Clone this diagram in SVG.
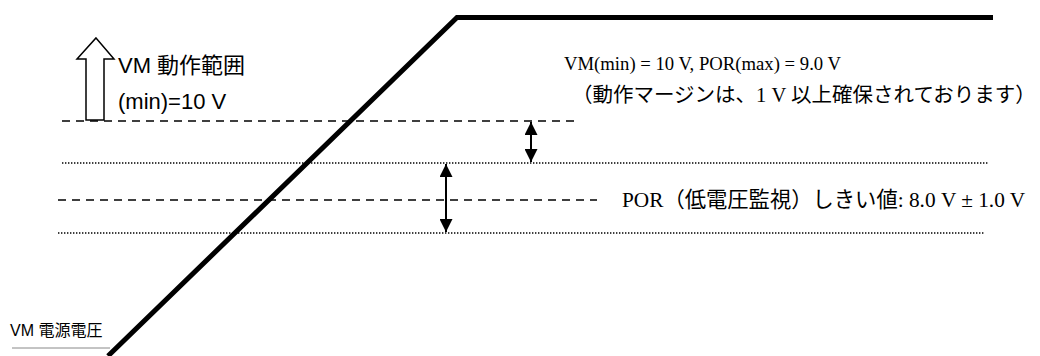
<svg xmlns="http://www.w3.org/2000/svg" width="1040" height="356" viewBox="0 0 1040 356">
  <style>
    .sans { font-family: "Liberation Sans", "Noto Sans CJK JP", sans-serif; fill: #000; }
    .serif { font-family: "Liberation Serif", "Noto Sans CJK JP", serif; fill: #000; }
    .dash { stroke: #000; stroke-width: 1.6; stroke-dasharray: 8 6; fill: none; }
    .dot { stroke: #000; stroke-width: 1.4; stroke-dasharray: 1.4 1.6; fill: none; }
    .dim { stroke: #000; stroke-width: 2; fill: none; }
  </style>
  <defs>
    <marker id="ah" viewBox="0 0 13 13" refX="13" refY="6.5" markerWidth="13" markerHeight="13" markerUnits="userSpaceOnUse" orient="auto-start-reverse">
      <path d="M0,0 L13,6.5 L0,13 Z" fill="#000"/>
    </marker>
  </defs>
  <rect width="1040" height="356" fill="#fff"/>

  <g id="levels">
    <line class="dash" x1="62" y1="121" x2="577" y2="121"/>
    <line class="dot" x1="62" y1="163" x2="988" y2="163"/>
    <line class="dash" x1="58" y1="200" x2="597" y2="200"/>
    <line class="dot" x1="58" y1="233" x2="985" y2="233"/>
  </g>

  <g id="supply-curve">
    <polyline points="108,356 457,17.5 993,17.5" fill="none" stroke="#000" stroke-width="5" stroke-linejoin="miter"/>
  </g>

  <g id="vm-range">
    <path d="M96,38 L114,59 L104,59 L104,120 L86,120 L86,59 L77,59 Z" fill="#fff" stroke="#000" stroke-width="1.5"/>
    <text class="sans" x="118" y="73" font-size="22">VM 動作範囲</text>
    <text class="sans" x="118" y="109" font-size="22">(min)=10 V</text>
  </g>

  <g id="connectors">
    <line class="dim" x1="531" y1="122" x2="531" y2="162" marker-start="url(#ah)" marker-end="url(#ah)"/>
    <line class="dim" x1="446" y1="164" x2="446" y2="232" marker-start="url(#ah)" marker-end="url(#ah)"/>
  </g>

  <g id="margin-note">
    <text class="serif" x="564" y="70" font-size="18.7">VM(min) = 10 V, POR(max) = 9.0 V</text>
    <text class="serif" x="572" y="102" font-size="20.5">（動作マージンは、1 V 以上確保されております）</text>
  </g>

  <g id="por-label">
    <text class="serif" x="622" y="207" font-size="21.3">POR（低電圧監視）しきい値: 8.0 V ± 1.0 V</text>
  </g>

  <g id="vm-supply">
    <text class="sans" x="10" y="336" font-size="16">VM 電源電圧</text>
    <line x1="12" y1="348" x2="110" y2="348" stroke="#888" stroke-width="1"/>
  </g>
</svg>
